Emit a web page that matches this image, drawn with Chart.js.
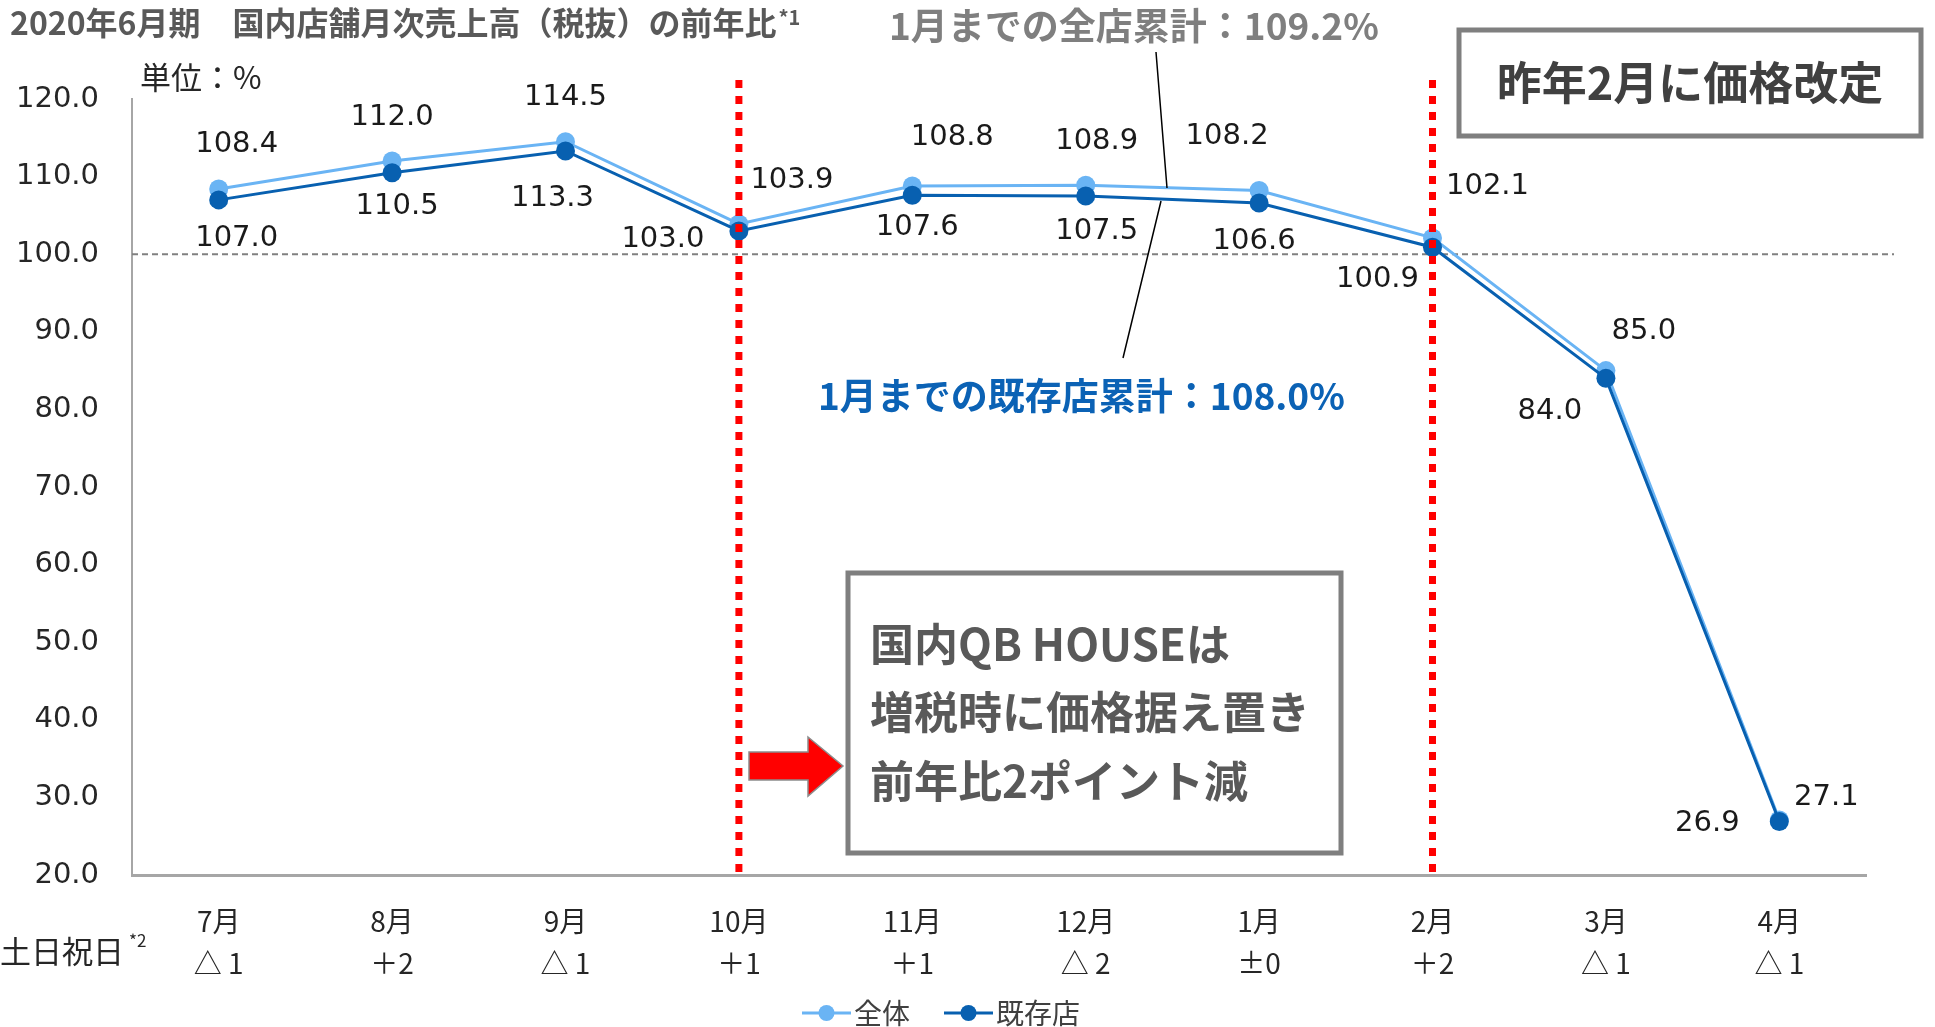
<!DOCTYPE html>
<html lang="ja">
<head>
<meta charset="utf-8">
<title>国内店舗月次売上高（税抜）の前年比</title>
<script src="https://cdn.jsdelivr.net/npm/chart.js@4/dist/chart.umd.min.js"></script>
<style>
    html, body { margin: 0; padding: 0; background: #fff; }
    #wrap { position: relative; width: 1935px; height: 1027px; }
</style>
</head>
<body>
<div id="wrap"><canvas id="chart" width="1935" height="1027"></canvas></div>
<script>
// ---------------------------------------------------------------------------
// DATA
// ---------------------------------------------------------------------------

const MONTHS          = ['7月', '8月', '9月', '10月', '11月', '12月', '1月', '2月', '3月', '4月'];
const WEEKEND_DIFF    = ['△ 1', '＋2', '△ 1', '＋1', '＋1', '△ 2', '±0', '＋2', '△ 1', '△ 1'];
const ALL_STORES      = [108.4, 112.0, 114.5, 103.9, 108.8, 108.9, 108.2, 102.1, 85.0, 27.1];
const EXISTING_STORES = [107.0, 110.5, 113.3, 103.0, 107.6, 107.5, 106.6, 100.9, 84.0, 26.9];
const Y_MIN  = 20;
const Y_MAX  = 120;
const Y_STEP = 10;
const BASELINE       = 100;
const MARKED_MONTHS  = ['10月', '2月'];

// ---------------------------------------------------------------------------
// STYLE
// ---------------------------------------------------------------------------

const COLOR_ALL      = '#6ab4f4';
const COLOR_EXISTING = '#0860b0';
const FONT_NUM = '"DejaVu Sans", Verdana, sans-serif';
const FONT_JP  = '"Noto Sans CJK JP", "Noto Sans", sans-serif';

// label offsets from each point, in px
const OFFSET_ALL      = [[18, -45], [0, -44], [0, -44], [53, -43], [40, -48], [11, -44], [-32, -54], [55, -51], [38, -39], [47, -22]];
const OFFSET_EXISTING = [[18, 39], [5, 34], [-13, 47], [-76, 9], [5, 32], [11, 35], [-5, 38], [-55, 32], [-56, 33], [-72, 2]];

// ---------------------------------------------------------------------------
// DRAWING HELPERS
// ---------------------------------------------------------------------------

function text(ctx, str, x, y, font, color, align = 'left') {
    ctx.font = font;
    ctx.fillStyle = color;
    ctx.textAlign = align;
    ctx.textBaseline = 'middle';
    ctx.fillText(str, x, y);
}

function box(ctx, x, y, w, h) {
    ctx.fillStyle = '#ffffff';
    ctx.fillRect(x, y, w, h);
    ctx.strokeStyle = '#7f7f7f';
    ctx.lineWidth = 5;
    ctx.strokeRect(x, y, w, h);
}

const overlay = {
    id: 'overlay',
    beforeDatasetsDraw(chart) {
        const { ctx, scales: { y }, chartArea } = chart;
        const py = y.getPixelForValue(BASELINE);
        ctx.save();
        ctx.strokeStyle = '#808080';
        ctx.lineWidth = 2;
        ctx.setLineDash([6, 4]);
        ctx.beginPath();
        ctx.moveTo(chartArea.left, py);
        ctx.lineTo(chartArea.right + 28, py);
        ctx.stroke();
        ctx.restore();
    },
    afterDatasetsDraw(chart) {
        const { ctx, scales: { x }, chartArea } = chart;
        ctx.save();

        // red dotted markers
        ctx.strokeStyle = '#ff0000';
        ctx.lineWidth = 7;
        ctx.setLineDash([8, 8]);
        MARKED_MONTHS.forEach(m => {
            const px = x.getPixelForValue(MONTHS.indexOf(m));
            ctx.beginPath();
            ctx.moveTo(px, 80);
            ctx.lineTo(px, chartArea.bottom);
            ctx.stroke();
        });
        ctx.setLineDash([]);

        // point labels
        const offsets = { '全体': OFFSET_ALL, '既存店': OFFSET_EXISTING };
        chart.data.datasets.forEach((ds, di) => {
            const meta = chart.getDatasetMeta(di);
            meta.data.forEach((pt, i) => {
                const [dx, dy] = offsets[ds.label][i];
                text(ctx, ds.data[i].toFixed(1), pt.x + dx, pt.y + dy, `29px ${FONT_NUM}`, '#1a1a1a', 'center');
            });
        });

        // leader lines
        ctx.strokeStyle = '#000000';
        ctx.lineWidth = 1.5;
        ctx.beginPath();
        ctx.moveTo(1156, 52);
        ctx.lineTo(1167, 188);
        ctx.moveTo(1161, 201);
        ctx.lineTo(1123, 358);
        ctx.stroke();

        // annotations
        text(ctx, '1月までの全店累計：109.2%', 889, 26, `bold 37px ${FONT_JP}`, '#7f7f7f');
        text(ctx, '1月までの既存店累計：108.0%', 818, 396, `bold 37px ${FONT_JP}`, '#0b62b5');

        box(ctx, 1459, 30, 462, 106);
        text(ctx, '昨年2月に価格改定', 1690, 83, `bold 45px ${FONT_JP}`, '#404040', 'center');

        box(ctx, 848, 573, 493, 280);
        ['国内QB HOUSEは', '増税時に価格据え置き', '前年比2ポイント減'].forEach((line, i) => {
            text(ctx, line, 870, 644 + i * 68.5, `bold 44px ${FONT_JP}`, '#595959');
        });

        // red arrow
        ctx.fillStyle = '#ff0000';
        ctx.strokeStyle = '#8c8c8c';
        ctx.lineWidth = 1.5;
        ctx.beginPath();
        ctx.moveTo(749, 752);
        ctx.lineTo(808, 752);
        ctx.lineTo(808, 737);
        ctx.lineTo(843, 766);
        ctx.lineTo(808, 796);
        ctx.lineTo(808, 780);
        ctx.lineTo(749, 780);
        ctx.closePath();
        ctx.fill();
        ctx.stroke();

        ctx.restore();
    },
    afterDraw(chart) {
        const { ctx } = chart;
        ctx.save();

        // title
        const title = '2020年6月期　国内店舗月次売上高（税抜）の前年比';
        text(ctx, title, 10, 23, `bold 32px ${FONT_JP}`, '#595959');
        const tw = ctx.measureText(title).width;
        text(ctx, '*1', 12 + tw, 17, `bold 20px ${FONT_JP}`, '#595959');

        text(ctx, '単位：%', 140, 77, `31px ${FONT_JP}`, '#262626');

        // row header under the axis
        text(ctx, '土日祝日', 0, 951, `31px ${FONT_JP}`, '#262626');
        text(ctx, '*2', 129, 941, `17px ${FONT_JP}`, '#262626');

        // legend
        const items = [
            { label: '全体',   color: COLOR_ALL,      x: 802 },
            { label: '既存店', color: COLOR_EXISTING, x: 944 },
        ];
        items.forEach(it => {
            ctx.strokeStyle = it.color;
            ctx.lineWidth = 3;
            ctx.beginPath();
            ctx.moveTo(it.x, 1013);
            ctx.lineTo(it.x + 49, 1013);
            ctx.stroke();
            ctx.fillStyle = it.color;
            ctx.beginPath();
            ctx.arc(it.x + 24.5, 1013, 8, 0, Math.PI * 2);
            ctx.fill();
            text(ctx, it.label, it.x + 52, 1013, `28px ${FONT_JP}`, '#404040');
        });

        ctx.restore();
    },
};

// ---------------------------------------------------------------------------
// CHART
// ---------------------------------------------------------------------------

function lineDataset(label, data, color, order) {
    return {
        label,
        data,
        order,
        borderColor:          color,
        backgroundColor:      color,
        pointBackgroundColor: color,
        pointBorderColor:     color,
        pointRadius:          9.5,
        pointBorderWidth:     0,
        borderWidth:          3,
        tension:              0,
    };
}

new Chart(document.getElementById('chart'), {
    type: 'line',
    data: {
        labels: MONTHS.map((m, i) => [m, WEEKEND_DIFF[i]]),
        datasets: [
            lineDataset('全体',   ALL_STORES,      COLOR_ALL,      2),
            lineDataset('既存店', EXISTING_STORES, COLOR_EXISTING, 1),
        ],
    },
    options: {
        responsive: false,
        animation:  false,
        layout: { padding: { top: 99, right: 69, left: 0, bottom: 0 } },
        plugins: {
            legend:  { display: false },
            tooltip: { enabled: false },
        },
        scales: {
            x: {
                offset: true,
                grid:   { display: false, drawTicks: false },
                border: { color: '#a6a6a6', width: 3 },
                ticks:  {
                    font:    { family: FONT_JP, size: 28, lineHeight: 1.5 },
                    color:   '#262626',
                    padding: 25,
                    maxRotation: 0,
                    autoSkip: false,
                },
                afterFit(scale) { scale.height = 152; },
            },
            y: {
                min: Y_MIN,
                max: Y_MAX,
                grid:   { display: false, drawTicks: false },
                border: { color: '#a6a6a6', width: 2 },
                ticks:  {
                    stepSize: Y_STEP,
                    font:     { family: FONT_NUM, size: 29 },
                    color:    '#262626',
                    padding:  33,
                    callback: v => v.toFixed(1),
                },
                afterFit(scale) { scale.width = 132; },
            },
        },
    },
    plugins: [overlay],
});
</script>
</body>
</html>
